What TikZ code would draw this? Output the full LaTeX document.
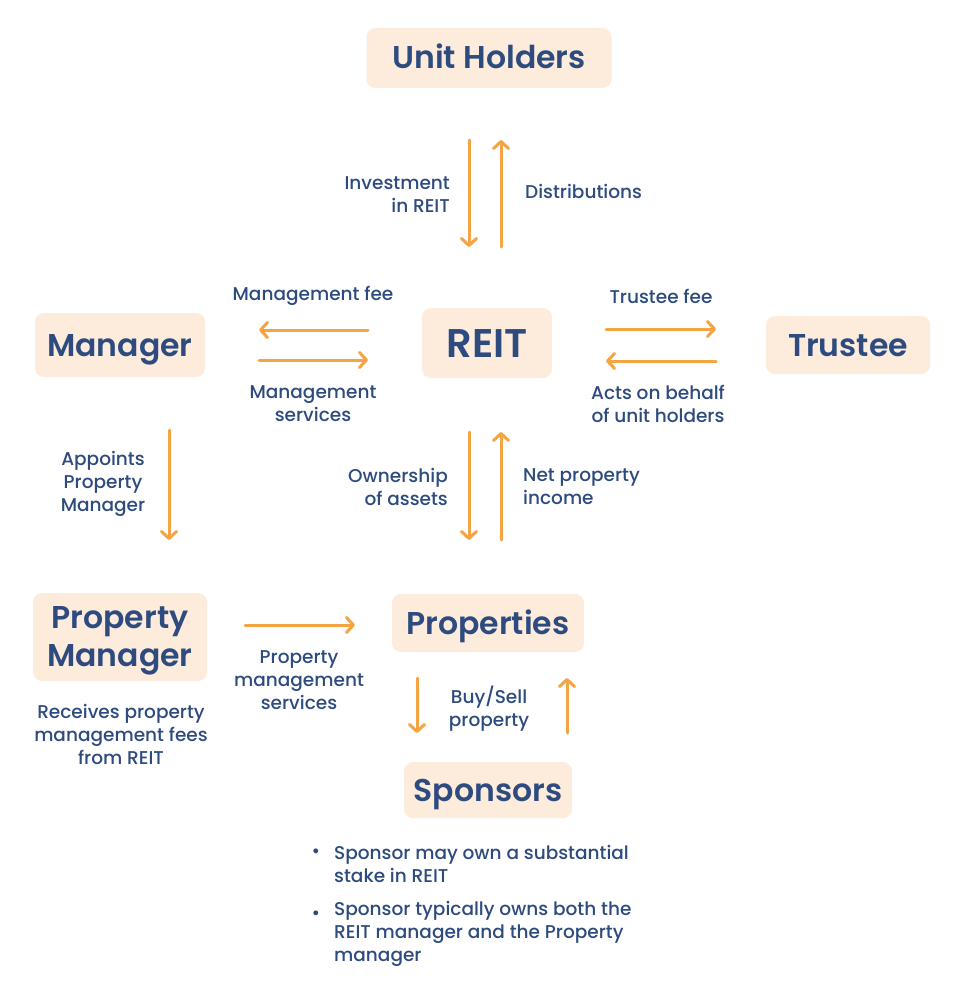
\documentclass[tikz,border=0pt]{standalone}
\usepackage{fontspec}
\setmainfont{Poppins}
\newfontfamily\titlefont{Poppins SemiBold}
\newfontfamily\labelfont{Poppins Medium}
\usetikzlibrary{arrows.meta}
\definecolor{peach}{HTML}{FDEBDC}
\definecolor{navy}{HTML}{2D4B7E}
\definecolor{orng}{HTML}{F5A443}
\begin{document}
\begin{tikzpicture}[x=1pt,y=-1pt,
  box/.style={fill=peach, rounded corners=9pt, text=navy, font=\titlefont\fontsize{31.5}{38}\selectfont, inner sep=0pt, text height=22pt, text depth=0pt},
  boxbg/.style={fill=peach, rounded corners=9pt, inner sep=0pt},
  boxtxt/.style={text=navy, font=\titlefont\fontsize{31.5}{38}\selectfont, align=center, inner sep=0pt},
  lbl/.style={text=navy, font=\labelfont\fontsize{18.5}{23}\selectfont, align=center, inner sep=0pt},
  flow/.style={draw=orng, line width=3pt, line cap=round, -{Straight Barb[length=7pt,width=15pt,line cap=round,line join=round]}}
]
\useasboundingbox[fill=white] (0,0) rectangle (956,1006);

% boxes
\node[box, minimum width=245, minimum height=60] (uh) at (489,58) {Unit Holders};
\node[box, minimum width=170, minimum height=64] (mgr) at (120,345) {Manager};
\node[box, minimum width=130, minimum height=70, font=\titlefont\fontsize{40}{44}\selectfont, text height=28pt] (reit) at (487,343) {REIT};
\node[box, minimum width=164, minimum height=58] (tr) at (848,345) {Trustee};
\node[boxbg, minimum width=174, minimum height=88] (pm) at (120,637) {};
\node[boxtxt] (pmtext) at (120,641) {Property\\Manager};
\node[box, minimum width=192, minimum height=58] (prop) at (488,623) {Properties};
\node[box, minimum width=168, minimum height=56] (sp) at (488,790) {Sponsors};

% arrow end points
\coordinate (a1s) at (469,140); \coordinate (a1e) at (469,247);
\coordinate (a2s) at (501,247); \coordinate (a2e) at (501,140);
\coordinate (a3s) at (368,330); \coordinate (a3e) at (259,330);
\coordinate (a4s) at (259,360); \coordinate (a4e) at (368,360);
\coordinate (a5s) at (606,329); \coordinate (a5e) at (716,329);
\coordinate (a6s) at (716,361); \coordinate (a6e) at (606,361);
\coordinate (a7s) at (469,432); \coordinate (a7e) at (469,540);
\coordinate (a8s) at (501,540); \coordinate (a8e) at (501,432);
\coordinate (a9s) at (169,430); \coordinate (a9e) at (169,540);
\coordinate (a10s) at (245,625); \coordinate (a10e) at (355,625);
\coordinate (a11s) at (417,678); \coordinate (a11e) at (417,733);
\coordinate (a12s) at (567,733); \coordinate (a12e) at (567,678);

\draw[flow] (a1s) -- (a1e);
\draw[flow] (a2s) -- (a2e);
\draw[flow] (a3s) -- (a3e);
\draw[flow] (a4s) -- (a4e);
\draw[flow] (a5s) -- (a5e);
\draw[flow] (a6s) -- (a6e);
\draw[flow] (a7s) -- (a7e);
\draw[flow] (a8s) -- (a8e);
\draw[flow] (a9s) -- (a9e);
\draw[flow] (a10s) -- (a10e);
\draw[flow] (a11s) -- (a11e);
\draw[flow] (a12s) -- (a12e);

% labels
\node[lbl, anchor=east, align=right] (l1) at (450,195) {Investment\\in REIT};
\node[lbl, anchor=west] (l2) at (525,191) {Distributions};
\node[lbl] (l3) at (313,296) {Management fee};
\node[lbl] (l4) at (313,404) {Management\\services};
\node[lbl] (l5) at (661,296) {Trustee fee};
\node[lbl] (l6) at (658,404) {Acts on behalf\\of unit holders};
\node[lbl, anchor=east, align=right] (l7) at (448,487) {Ownership\\of assets};
\node[lbl, anchor=west, align=left] (l8) at (523,487) {Net property\\income};
\node[lbl] (l9) at (103,484) {Appoints\\Property\\Manager};
\node[lbl] (l10) at (299,680) {Property\\management\\services};
\node[lbl] (l11) at (489,709) {Buy/Sell\\property};
\node[lbl] (l12) at (121,734) {Receives property\\management fees\\from REIT};

% bullets
\node[lbl] (b1) at (316,853) {•};
\node[lbl, anchor=west, align=left] (t1) at (334,864) {Sponsor may own a substantial\\stake in REIT};
\node[lbl] (b2) at (316,915) {•};
\node[lbl, anchor=west, align=left] (t2) at (334,934) {Sponsor typically owns both the\\REIT manager and the Property\\manager};
\end{tikzpicture}
\end{document}
